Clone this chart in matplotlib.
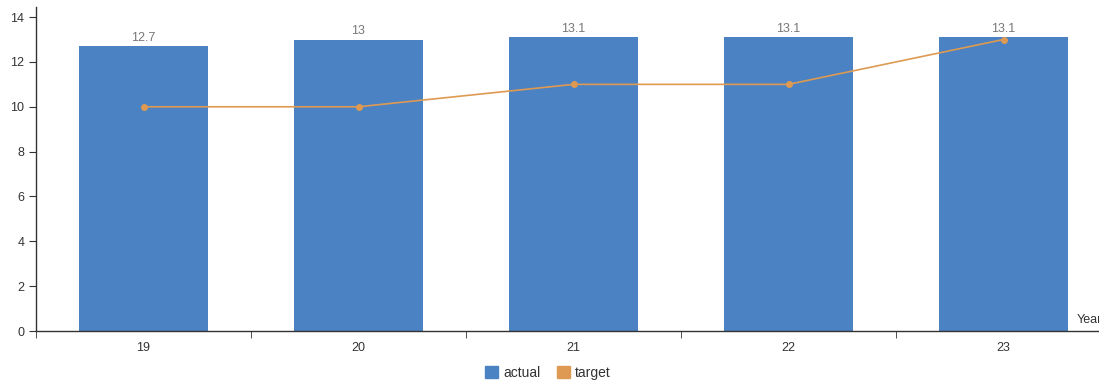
import matplotlib.pyplot as plt
import numpy as np
from matplotlib.patches import Patch

plt.rcParams["font.family"] = ["Liberation Sans", "DejaVu Sans"]

years = ["19", "20", "21", "22", "23"]
actual = [12.7, 13, 13.1, 13.1, 13.1]
target = [10, 10, 11, 11, 13]

bar_color = "#4a82c3"
line_color = "#de9a52"

fig = plt.figure(figsize=(10.99, 3.83), dpi=100)
W, H = 1099, 383
# axis runs past the right edge of the figure
ax = fig.add_axes([36 / W, 52 / H, 1075 / W, 324 / H])

x = np.arange(len(years))
ax.bar(x, actual, width=0.6, color=bar_color, zorder=2)
ax.plot(x, target, color=line_color, lw=1.2, marker="o", ms=4, zorder=3)

for xi, v in zip(x, actual):
    ax.text(xi, v + 0.1, f"{v:g}", ha="center", va="bottom",
            fontsize=9, color="#777777", zorder=4)

ax.set_xlim(-0.5, len(years) - 0.5)
ax.set_ylim(0, 14.45)
ax.set_xticks(x)
ax.set_xticklabels(years)
ax.set_xticks(np.arange(len(years) + 1) - 0.5, minor=True)
ax.tick_params(axis="x", which="major", length=0, pad=8, labelsize=9,
               labelcolor="#333333")
ax.tick_params(axis="x", which="minor", length=5, color="#333333")
ax.set_yticks(range(0, 15, 2))
ax.tick_params(axis="y", length=5, labelsize=9, color="#333333",
               labelcolor="#333333")

for s in ["top", "right"]:
    ax.spines[s].set_visible(False)
for s in ["left", "bottom"]:
    ax.spines[s].set_color("#333333")
    ax.spines[s].set_linewidth(1)

# axis title sits at the far right end, partly past the edge
fig.text(1077 / W, (383 - 320) / H, "Year", fontsize=9, ha="left",
         va="center", color="#333333")

handles = [Patch(color=bar_color, label="actual"),
           Patch(color=line_color, label="target")]
fig.legend(handles=handles, loc="center", bbox_to_anchor=(548 / W, (383 - 373) / H),
           ncol=2, frameon=False, fontsize=10, handlelength=0.9, handleheight=0.9,
           handletextpad=0.4, columnspacing=1.2, labelcolor="#333333")

fig.savefig("out.png", dpi=100)
